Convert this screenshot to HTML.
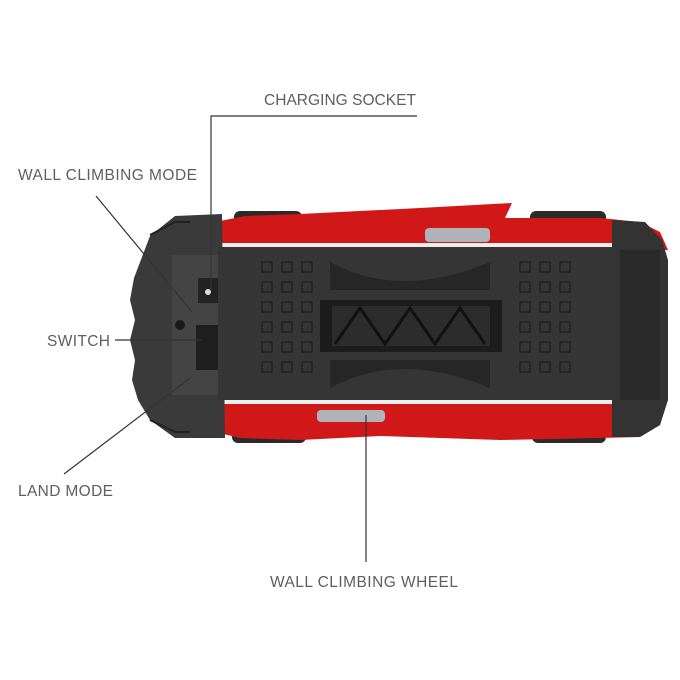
<!DOCTYPE html>
<html><head><style>
html,body{margin:0;padding:0;background:#fff;width:680px;height:680px;overflow:hidden}
svg{display:block}
text{font-family:"Liberation Sans",sans-serif;font-size:15.5px;fill:#5f5f5f;letter-spacing:0.05px}
</style></head><body>
<svg width="680" height="680" viewBox="0 0 680 680" xmlns="http://www.w3.org/2000/svg">
<rect x="234" y="211" width="68" height="13" rx="6" fill="#2a2a2a"/>
<rect x="530" y="211" width="76" height="13" rx="6" fill="#2a2a2a"/>
<rect x="232" y="431" width="74" height="12" rx="6" fill="#2a2a2a"/>
<rect x="532" y="431" width="74" height="12" rx="6" fill="#2a2a2a"/>
<path d="M215 222 L245 216 L300 214 L420 208 L512 203 L505 218 L600 218 L640 222 L660 232 L668 250 L215 250 Z" fill="#d01818"/>
<path d="M215 398 L668 398 L660 425 L640 437 L600 438 L500 440 L380 436 L300 440 L240 438 L215 432 Z" fill="#d01818"/>
<rect x="215" y="243" width="400" height="8" fill="#eeeeee"/>
<rect x="215" y="396" width="400" height="8" fill="#eeeeee"/>
<rect x="425" y="228" width="65" height="14" rx="4" fill="#b0b4b8"/>
<rect x="317" y="410" width="68" height="12" rx="4" fill="#b0b4b8"/>
<path d="M175 216 L222 214 L225 438 L175 438 L150 420 L138 400 L132 380 L135 360 L130 340 L135 320 L130 300 L134 278 L150 236 Z" fill="#3a3a3a"/>
<path d="M150 235 L175 222 L190 222" stroke="#222" stroke-width="2" fill="none"/>
<path d="M150 420 L175 432 L190 432" stroke="#222" stroke-width="2" fill="none"/>
<rect x="172" y="255" width="50" height="140" fill="#444"/>
<rect x="198" y="278" width="20" height="25" fill="#222"/>
<circle cx="208" cy="292" r="3" fill="#ddd"/>
<rect x="196" y="325" width="22" height="45" fill="#1e1e1e"/>
<circle cx="180" cy="325" r="5" fill="#1a1a1a"/>
<path d="M612 220 L645 222 L662 240 L668 260 L668 400 L660 425 L640 437 L612 437 Z" fill="#333"/>
<rect x="620" y="250" width="40" height="150" fill="#2a2a2a"/>
<rect x="218" y="247" width="398" height="153" fill="#353535"/>
<path d="M330 262 Q400 300 490 262 L490 290 L330 290 Z" fill="#262626"/>
<path d="M330 388 Q400 350 490 388 L490 360 L330 360 Z" fill="#262626"/>
<rect x="320" y="300" width="182" height="52" fill="#1c1c1c"/>
<rect x="332" y="306" width="158" height="40" fill="#2c2c2c"/>
<path d="M335 344 L360 308 L385 344 L410 308 L435 344 L460 308 L485 344" stroke="#111" stroke-width="3" fill="none"/>
<g fill="none" stroke="#222" stroke-width="1.5">
<path d="M262 262h10v10h-10zM282 262h10v10h-10zM302 262h10v10h-10zM262 282h10v10h-10zM282 282h10v10h-10zM302 282h10v10h-10zM262 302h10v10h-10zM282 302h10v10h-10zM302 302h10v10h-10zM262 322h10v10h-10zM282 322h10v10h-10zM302 322h10v10h-10zM262 342h10v10h-10zM282 342h10v10h-10zM302 342h10v10h-10zM262 362h10v10h-10zM282 362h10v10h-10zM302 362h10v10h-10z"/>
<path d="M520 262h10v10h-10zM540 262h10v10h-10zM560 262h10v10h-10zM520 282h10v10h-10zM540 282h10v10h-10zM560 282h10v10h-10zM520 302h10v10h-10zM540 302h10v10h-10zM560 302h10v10h-10zM520 322h10v10h-10zM540 322h10v10h-10zM560 322h10v10h-10zM520 342h10v10h-10zM540 342h10v10h-10zM560 342h10v10h-10zM520 362h10v10h-10zM540 362h10v10h-10zM560 362h10v10h-10z"/>
</g>
<g stroke="#333" stroke-width="1.2" fill="none">
<path d="M417 116 H211 V290"/>
<path d="M96 196 L192 312"/>
<path d="M115 340 H202"/>
<path d="M64 474 L190 378"/>
<path d="M366 415 V562"/>
</g>
<text x="264" y="105" textLength="152">CHARGING SOCKET</text>
<text x="18" y="180" textLength="179">WALL CLIMBING MODE</text>
<text x="47" y="346" textLength="63">SWITCH</text>
<text x="18" y="496" textLength="95">LAND MODE</text>
<text x="270" y="587" textLength="188">WALL CLIMBING WHEEL</text>
</svg>
</body></html>
